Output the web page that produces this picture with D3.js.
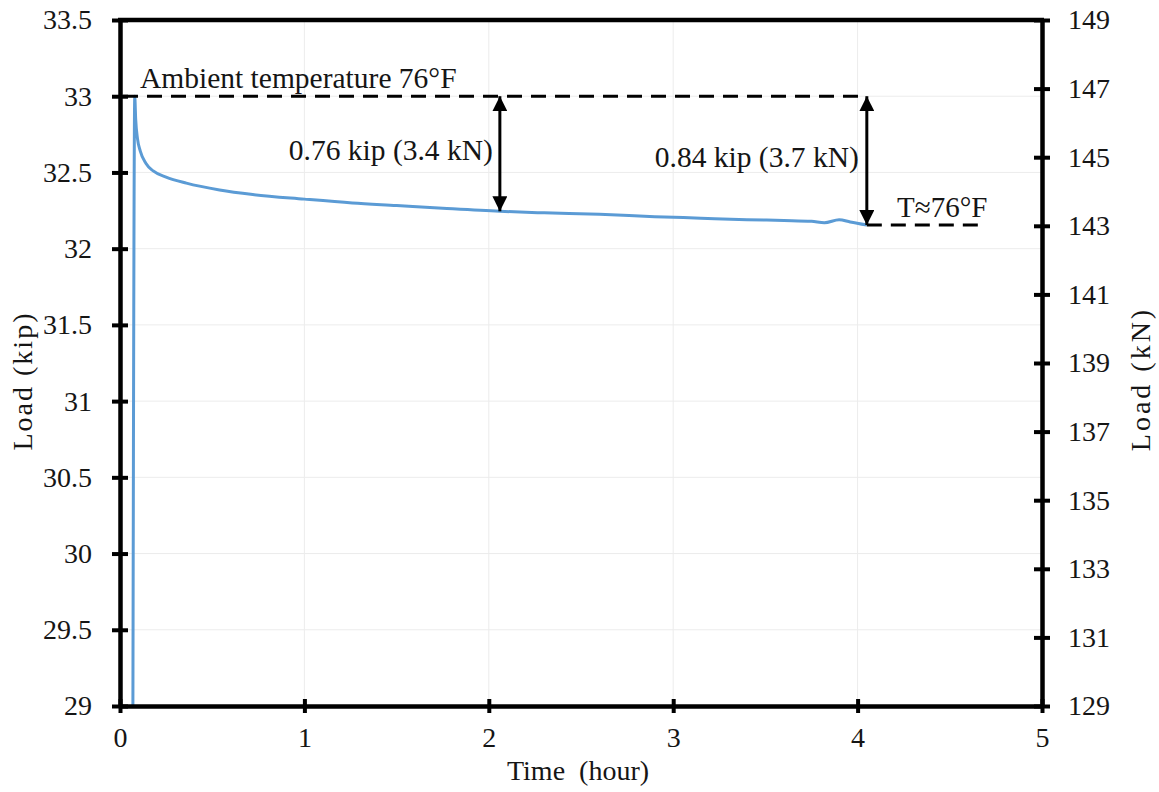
<!DOCTYPE html>
<html>
<head>
<meta charset="utf-8">
<script src="https://cdn.jsdelivr.net/npm/d3@7"></script>
<style>
  body { margin: 0; background: #fff; }
</style>
</head>
<body>
<div id="chart"></div>
<script>
// time (hour) and load (kip)
const timeHr = [0.07, 0.08, 0.085, 0.095, 0.11, 0.14, 0.18, 0.25, 0.36, 0.54, 0.72, 1.0, 1.26, 1.5, 1.75, 2.06, 2.3, 2.6, 2.9, 3.15, 3.4, 3.6, 3.75, 3.82, 3.9, 3.96, 4.05]
const loadKip = [29.0, 33.0, 32.85, 32.72, 32.64, 32.56, 32.51, 32.47, 32.43, 32.385, 32.355, 32.325, 32.30, 32.283, 32.265, 32.245, 32.235, 32.225, 32.21, 32.2, 32.19, 32.185, 32.18, 32.17, 32.19, 32.175, 32.155]

const xTicks = [0, 1, 2, 3, 4, 5]
const yTicksKip = [29, 29.5, 30, 30.5, 31, 31.5, 32, 32.5, 33, 33.5]
const yTicksKN = [129, 131, 133, 135, 137, 139, 141, 143, 145, 147, 149]

// annotation values
const ambientKip = 33.0
const endKip = 32.155
const endTime = 4.05
const midTime = 2.06
const midKip = 32.245
const tailEnd = 4.7

const width = 1159
const height = 792
const margin = { top: 20, right: 117, bottom: 86, left: 120 }
const serif = '"Liberation Serif", "Times New Roman", serif'
const fontSize = 28

const svg = d3
  .select('#chart')
  .append('svg')
  .attr('width', width)
  .attr('height', height)
  .attr('viewBox', [0, 0, width, height])

const x = d3.scaleLinear().domain([0, 5]).range([margin.left, width - margin.right])
const y = d3.scaleLinear().domain([29, 33.5]).range([height - margin.bottom, margin.top])
const yR = d3.scaleLinear().domain([129, 149]).range([height - margin.bottom, margin.top])

const setFont = (sel, size) =>
  sel.style('font-family', serif).style('font-size', size + 'px').style('fill', '#151515')

// faint gridlines
const grid = svg.append('g').attr('stroke', '#ececec').attr('stroke-width', 1)
grid
  .selectAll('.hgrid')
  .data(yTicksKip)
  .join('line')
  .attr('x1', x(0))
  .attr('x2', x(5))
  .attr('y1', (d) => y(d))
  .attr('y2', (d) => y(d))
grid
  .selectAll('.vgrid')
  .data(xTicks)
  .join('line')
  .attr('x1', (d) => x(d))
  .attr('x2', (d) => x(d))
  .attr('y1', y(29))
  .attr('y2', y(33.5))

// data curve
const line = d3
  .line()
  .x((d, i) => x(timeHr[i]))
  .y((d) => y(d))
  .curve(d3.curveMonotoneX)

svg
  .append('path')
  .datum(loadKip)
  .attr('fill', 'none')
  .attr('stroke', '#5b9bd5')
  .attr('stroke-width', 3)
  .attr('stroke-linejoin', 'round')
  .attr('d', line)

// axes
const styleAxis = (g) => {
  g.attr('font-family', null).attr('font-size', null)
  g.select('.domain').attr('stroke', '#000').attr('stroke-width', 4.5)
  g.selectAll('.tick line').attr('stroke', '#000').attr('stroke-width', 4)
  g.selectAll('.tick text').call(setFont, fontSize)
}

svg
  .append('g')
  .attr('transform', `translate(${margin.left},0)`)
  .call(d3.axisLeft(y).tickValues(yTicksKip).tickFormat(d3.format('')).tickSize(8).tickPadding(20).tickSizeOuter(0))
  .call(styleAxis)
  .call((g) => g.selectAll('.tick line').attr('x1', 8))

svg
  .append('g')
  .attr('transform', `translate(${width - margin.right},0)`)
  .call(d3.axisRight(yR).tickValues(yTicksKN).tickFormat(d3.format('d')).tickSize(8).tickPadding(18).tickSizeOuter(0))
  .call(styleAxis)
  .call((g) => g.selectAll('.tick line').attr('x1', -8))

svg
  .append('g')
  .attr('transform', `translate(0,${height - margin.bottom})`)
  .call(d3.axisBottom(x).tickValues(xTicks).tickFormat(d3.format('d')).tickSize(7).tickPadding(14).tickSizeOuter(0))
  .call(styleAxis)
  .call((g) => g.selectAll('.tick line').attr('y1', -7))

// top border
svg
  .append('line')
  .attr('x1', x(0) - 2)
  .attr('x2', x(5) + 2)
  .attr('y1', y(33.5))
  .attr('y2', y(33.5))
  .attr('stroke', '#000')
  .attr('stroke-width', 4.5)

// axis titles
svg
  .append('text')
  .attr('transform', 'translate(32,381) rotate(-90)')
  .attr('text-anchor', 'middle')
  .call(setFont, fontSize)
  .style('letter-spacing', '2px')
  .text('Load (kip)')

svg
  .append('text')
  .attr('transform', 'translate(1150,379) rotate(-90)')
  .attr('text-anchor', 'middle')
  .call(setFont, fontSize)
  .style('letter-spacing', '3px')
  .text('Load (kN)')

svg
  .append('text')
  .attr('x', 578)
  .attr('y', 780)
  .attr('text-anchor', 'middle')
  .call(setFont, fontSize)
  .style('white-space', 'pre')
  .text('Time  (hour)')

// dashed reference lines
const dash = svg.append('g').attr('stroke', '#000').attr('stroke-width', 3).attr('stroke-dasharray', '15,9')
dash
  .append('line')
  .attr('x1', x(0) + 3)
  .attr('x2', x(endTime))
  .attr('y1', y(ambientKip))
  .attr('y2', y(ambientKip))
dash
  .append('line')
  .attr('x1', x(endTime))
  .attr('x2', x(tailEnd))
  .attr('y1', y(endKip))
  .attr('y2', y(endKip))

// double arrows
svg
  .append('defs')
  .append('marker')
  .attr('id', 'head')
  .attr('viewBox', '0 0 10 10')
  .attr('refX', 10)
  .attr('refY', 5)
  .attr('markerWidth', 5)
  .attr('markerHeight', 5)
  .attr('markerUnits', 'strokeWidth')
  .attr('orient', 'auto-start-reverse')
  .append('path')
  .attr('d', 'M0,0 L10,5 L0,10 z')
  .attr('fill', '#000')

const arrows = [
  { t: midTime, from: ambientKip, to: midKip },
  { t: endTime, from: ambientKip, to: endKip }
]
svg
  .append('g')
  .selectAll('line')
  .data(arrows)
  .join('line')
  .attr('x1', (d) => x(d.t))
  .attr('x2', (d) => x(d.t))
  .attr('y1', (d) => y(d.from))
  .attr('y2', (d) => y(d.to))
  .attr('stroke', '#000')
  .attr('stroke-width', 3)
  .attr('marker-start', 'url(#head)')
  .attr('marker-end', 'url(#head)')

// annotation labels
const labels = [
  { text: 'Ambient temperature 76°F', x: 140, y: 88, anchor: 'start', size: 29.5 },
  { text: '0.76 kip (3.4 kN)', x: x(midTime) - 7, y: 160, anchor: 'end', size: 29.5 },
  { text: '0.84 kip (3.7 kN)', x: x(endTime) - 8, y: 167, anchor: 'end', size: 29.5 },
  { text: 'T≈76°F', x: 897, y: 217, anchor: 'start', size: 29 }
]
svg
  .append('g')
  .selectAll('text')
  .data(labels)
  .join('text')
  .attr('x', (d) => d.x)
  .attr('y', (d) => d.y)
  .attr('text-anchor', (d) => d.anchor)
  .each(function (d) {
    d3.select(this).call(setFont, d.size)
  })
  .text((d) => d.text)
</script>
</body>
</html>
